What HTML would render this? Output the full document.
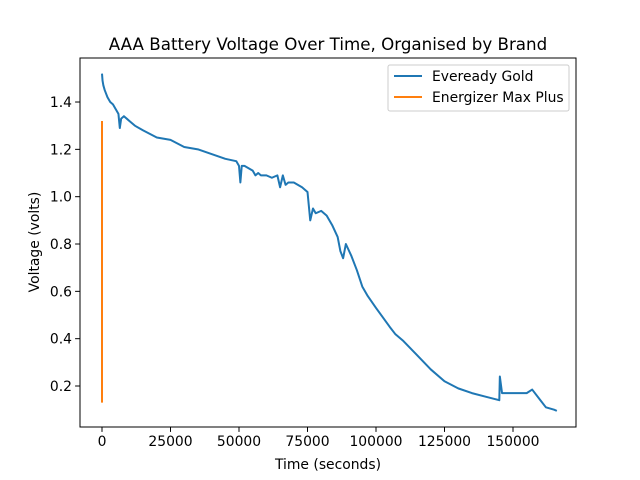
<!DOCTYPE html>
<html><head><meta charset="utf-8"><style>
body{margin:0;background:#fff;}
svg text{font-family:"DejaVu Sans","Liberation Sans",sans-serif;}
</style></head><body>
<svg id="chart" width="640" height="480" style="position:absolute;left:0;top:0" xmlns="http://www.w3.org/2000/svg"></svg>
<script>
const evereadyTime=[0,200,500,1000,2000,3000,4000,5000,6000,6500,7000,8000,10000,12000,15000,20000,25000,30000,35000,40000,45000,49000,50000,50500,51000,52000,55000,56000,57000,58000,60000,62000,64000,65000,66000,67000,68000,70000,73000,75000,76000,77000,78000,80000,82000,84000,86000,87000,88000,89000,91000,93000,95000,97000,100000,105000,107000,110000,115000,120000,125000,130000,135000,140000,145000,145200,146000,150000,155000,157000,160000,162000,165000,166000];
const evereadyVolt=[1.52,1.49,1.47,1.45,1.42,1.40,1.39,1.37,1.35,1.29,1.33,1.34,1.32,1.30,1.28,1.25,1.24,1.21,1.20,1.18,1.16,1.15,1.13,1.06,1.13,1.13,1.11,1.09,1.10,1.09,1.09,1.08,1.09,1.04,1.09,1.05,1.06,1.06,1.04,1.02,0.90,0.95,0.93,0.94,0.92,0.88,0.83,0.77,0.74,0.80,0.75,0.69,0.62,0.58,0.53,0.45,0.42,0.39,0.33,0.27,0.22,0.19,0.17,0.155,0.14,0.24,0.17,0.17,0.17,0.185,0.14,0.11,0.10,0.095];
const energizerTime=[0,0];
const energizerVolt=[0.13,1.32];
const xTicks=[0,25000,50000,75000,100000,125000,150000];
const yTicks=[0.2,0.4,0.6,0.8,1.0,1.2,1.4];
const NS="http://www.w3.org/2000/svg";
const svg=document.getElementById('chart');
const L=80,R=576,T=58,B=427;
const xMin=-8029,xMax=172993,yMin=0.0268,yMax=1.586;
const xs=v=>L+(v-xMin)/(xMax-xMin)*(R-L);
const ys=v=>B-(v-yMin)/(yMax-yMin)*(B-T);
function mk(tag,attrs,txt){const e=document.createElementNS(NS,tag);for(const k in attrs)e.setAttribute(k,attrs[k]);if(txt!==undefined)e.textContent=txt;svg.appendChild(e);return e;}
function line(t,v,color,name){
  const d=t.map((x,i)=>(i?'L':'M')+xs(x).toFixed(2)+','+ys(v[i]).toFixed(2)).join('');
  const p=mk('path',{d:d,fill:'none',stroke:color,'stroke-width':2,'stroke-linejoin':'round'});
  
  
}
line(evereadyTime,evereadyVolt,'#1f77b4','eveready-gold-line');
line(energizerTime,energizerVolt,'#ff7f0e','energizer-max-plus-line');
const frame=mk('rect',{x:L,y:T,width:R-L,height:B-T,fill:'none',stroke:'#000','stroke-width':1});


xTicks.forEach(v=>{
  const x=xs(v);
  mk('line',{x1:x,x2:x,y1:B,y2:B+4.9,stroke:'#000','stroke-width':1});
  const t=mk('text',{x:x,y:B+19,'font-size':13.9,'text-anchor':'middle'},String(v));
  
  
});
yTicks.forEach(v=>{
  const y=ys(v);
  mk('line',{x1:L-4.9,x2:L,y1:y,y2:y,stroke:'#000','stroke-width':1});
  const t=mk('text',{x:L-8,y:y+5,'font-size':13.9,'text-anchor':'end'},v.toFixed(1));
  
  
});
</script>
<svg width="640" height="480" style="position:absolute;left:0;top:0" xmlns="http://www.w3.org/2000/svg">
<text x="328" y="50" font-size="16.7" text-anchor="middle">AAA Battery Voltage Over Time, Organised by Brand</text>
<text x="328" y="469" font-size="13.9" text-anchor="middle">Time (seconds)</text>
<text x="0" y="0" font-size="13.9" text-anchor="middle" transform="translate(39,242) rotate(-90)">Voltage (volts)</text>
<g>
<rect x="388" y="65" width="181" height="46" rx="2" fill="#fff" fill-opacity="0.8" stroke="#ccc" stroke-width="1"/>
<line x1="394" y1="76" x2="422" y2="76" stroke="#1f77b4" stroke-width="2"/>
<text x="432" y="81" font-size="13.9">Eveready Gold</text>
<line x1="394" y1="97" x2="422" y2="97" stroke="#ff7f0e" stroke-width="2"/>
<text x="432" y="102" font-size="13.9">Energizer Max Plus</text>
</g>
</svg>
</body></html>
